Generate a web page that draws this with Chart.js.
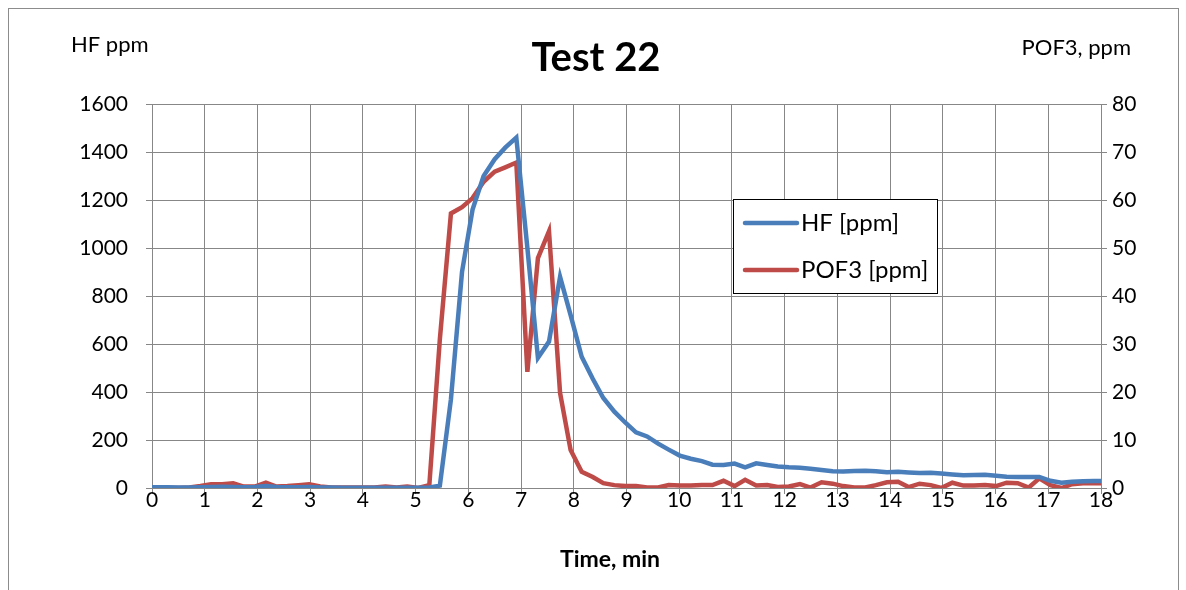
<!DOCTYPE html>
<html>
<head>
<meta charset="utf-8">
<script src="https://cdn.jsdelivr.net/npm/chart.js@4.4.0/dist/chart.umd.min.js"></script>
<style>
  html, body { margin: 0; padding: 0; background: #fff; }
  #wrap { width: 1186px; height: 590px; position: relative; }
</style>
</head>
<body>
<div id="wrap"><canvas id="testChart"></canvas></div>
<script>
// Data -------------------------------------------------------------------------
const times = [0.00, 0.30, 0.50, 0.71, 0.92, 1.12, 1.33, 1.54, 1.74, 1.95,
  2.16, 2.36, 2.57, 2.78, 2.98, 3.19, 3.40, 3.60, 3.81, 4.02,
  4.22, 4.43, 4.64, 4.84, 5.05, 5.26, 5.46, 5.67, 5.88, 6.08,
  6.29, 6.50, 6.70, 6.91, 7.12, 7.32, 7.53, 7.74, 7.94, 8.15,
  8.36, 8.56, 8.77, 8.98, 9.18, 9.39, 9.60, 9.80, 10.01, 10.22,
  10.43, 10.63, 10.84, 11.05, 11.25, 11.46, 11.67, 11.87, 12.08, 12.29,
  12.49, 12.70, 12.91, 13.11, 13.32, 13.53, 13.73, 13.94, 14.15, 14.35,
  14.56, 14.77, 14.97, 15.18, 15.39, 15.59, 15.80, 16.01, 16.21, 16.42,
  16.63, 16.83, 17.04, 17.25, 17.45, 17.66, 17.87, 18.00];

const hfPpm = [3, 3, 2, 2, 3, 4, 5, 4, 3, 4,
  8, 4, 3, 3, 4, 2, 2, 1, 1, 1,
  1, 1, 1, 1, 1, 2, 10, 370, 900, 1160,
  1300, 1370, 1418, 1460, 1000, 542, 610, 880, 720, 547,
  455, 375, 318, 272, 232, 215, 185, 160, 135, 122,
  112, 97, 96, 102, 86, 103, 96, 90, 86, 84,
  80, 75, 70, 69, 71, 72, 70, 66, 68, 65,
  62, 64, 60, 56, 53, 54, 55, 51, 47, 46,
  46, 46, 30, 22, 26, 28, 29, 29];

const pof3Ppm = [0, 0, 0, 0.1, 0.4, 0.8, 0.8, 1.0, 0.3, 0.3,
  1.1, 0.3, 0.4, 0.6, 0.8, 0.3, 0.1, 0.1, 0.1, 0.1,
  0.1, 0.3, 0.1, 0.3, 0.0, 0.6, 31, 57.2, 58.5, 60.4,
  63.8, 65.9, 66.8, 67.8, 24.2, 47.9, 53.5, 19.8, 7.9, 3.4,
  2.3, 1.0, 0.6, 0.4, 0.4, 0.1, 0.1, 0.6, 0.5, 0.5,
  0.6, 0.6, 1.5, 0.4, 1.7, 0.5, 0.6, 0.2, 0.3, 0.8,
  0.1, 1.2, 0.9, 0.4, 0.1, 0.1, 0.6, 1.2, 1.3, 0.2,
  0.9, 0.6, 0.0, 1.1, 0.5, 0.5, 0.6, 0.4, 1.1, 1.0,
  0.1, 2.0, 0.6, 0.0, 0.8, 1.0, 1.0, 1.0];

const seriesNames = ['HF [ppm]', 'POF3 [ppm]'];
const chartTitle = 'Test 22';
const leftAxisTitle = 'HF ppm';
const rightAxisTitle = 'POF3, ppm';
const xAxisTitle = 'Time, min';
// ----------------------------------------------------------------------------------

const FONT = 'Lato, "Open Sans", sans-serif';
const GRID = '#878787';

// texts, frame and legend box drawn straight on the canvas
const decorations = {
  id: 'decorations',
  afterDatasetsDraw(chart) {
    const ctx = chart.ctx;
    // legend box
    const lx = 733, ly = 199, lw = 204, lh = 94;
    ctx.save();
    ctx.fillStyle = '#fff';
    ctx.fillRect(lx, ly, lw, lh);
    ctx.strokeStyle = '#000';
    ctx.lineWidth = 1;
    ctx.strokeRect(lx + 0.5, ly + 0.5, lw, lh);
    ctx.font = '24px ' + FONT;
    ctx.textBaseline = 'middle';
    chart.data.datasets.forEach((ds, i) => {
      const y = ly + 24 + i * 47;
      ctx.strokeStyle = ds.borderColor;
      ctx.lineWidth = 4.5;
      ctx.lineCap = 'round';
      ctx.beginPath();
      ctx.moveTo(lx + 12, y);
      ctx.lineTo(lx + 64, y);
      ctx.stroke();
      ctx.fillStyle = '#000';
      ctx.fillText(ds.label, lx + 68, y);
    });
    ctx.restore();
  },
  afterDraw(chart) {
    const ctx = chart.ctx;
    ctx.save();
    // outer frame
    ctx.strokeStyle = '#8c8c8c';
    ctx.lineWidth = 1;
    ctx.strokeRect(8.5, 8.5, 1170, 600);
    ctx.fillStyle = '#000';
    ctx.textBaseline = 'middle';
    ctx.textAlign = 'center';
    ctx.font = 'bold 40px ' + FONT;
    ctx.fillText(chartTitle, 596, 58);
    ctx.font = '22px ' + FONT;
    ctx.textAlign = 'left';
    ctx.fillText(leftAxisTitle, 71, 45);
    ctx.textAlign = 'right';
    ctx.fillText(rightAxisTitle, 1131, 48);
    ctx.textAlign = 'center';
    ctx.font = 'bold 23px ' + FONT;
    ctx.fillText(xAxisTitle, 610, 560);
    ctx.restore();
  }
};

const plainNumber = (v) => String(v);

const ctx = document.getElementById('testChart').getContext('2d');
new Chart(ctx, {
  type: 'line',
  data: {
    datasets: [{
      label: seriesNames[0],
      data: times.map((t, i) => ({ x: t, y: hfPpm[i] })),
      borderColor: '#4a7ebb',
      borderWidth: 4.5,
      pointRadius: 0,
      tension: 0,
      yAxisID: 'y'
    }, {
      label: seriesNames[1],
      data: times.map((t, i) => ({ x: t, y: pof3Ppm[i] })),
      borderColor: '#be4b48',
      borderWidth: 4.5,
      pointRadius: 0,
      tension: 0,
      yAxisID: 'y1'
    }]
  },
  options: {
    responsive: true,
    maintainAspectRatio: false,
    animation: false,
    layout: { padding: { top: 104, left: 0, right: 0, bottom: 0 } },
    plugins: {
      legend: { display: false },
      title: { display: false },
      tooltip: { enabled: false }
    },
    scales: {
      x: {
        type: 'linear',
        min: 0,
        max: 18,
        ticks: { stepSize: 1, color: '#000', font: { family: FONT, size: 21 }, padding: -6, callback: plainNumber },
        grid: { color: GRID, tickLength: 6 },
        border: { color: GRID },
        afterFit(scale) { scale.height = 102; }
      },
      y: {
        position: 'left',
        min: 0,
        max: 1600,
        ticks: { stepSize: 200, color: '#000', font: { family: FONT, size: 21 }, padding: 18, callback: plainNumber },
        grid: { color: GRID, tickLength: 6 },
        border: { color: GRID },
        afterFit(scale) { scale.width = 152; }
      },
      y1: {
        position: 'right',
        min: 0,
        max: 80,
        ticks: { stepSize: 10, color: '#000', font: { family: FONT, size: 21 }, padding: 5, callback: plainNumber },
        grid: { drawOnChartArea: false, color: GRID, tickLength: 6 },
        border: { color: GRID },
        afterFit(scale) { scale.width = 85; }
      }
    }
  },
  plugins: [decorations]
});
</script>
</body>
</html>
